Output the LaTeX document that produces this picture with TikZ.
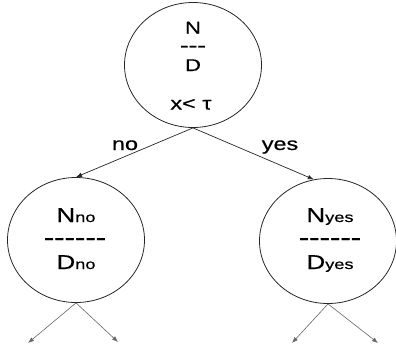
\documentclass[tikz,border=0pt]{standalone}
\usepackage{fontspec}
\setmainfont{Liberation Sans}
\newfontfamily\wf[FakeStretch=1.3,FakeBold=0.6]{Liberation Sans}
\newfontfamily\wfb[FakeStretch=1.3,FakeBold=1.5]{Liberation Sans}
\usetikzlibrary{shapes.geometric,arrows.meta}
\newcommand{\fs}[1]{\fontsize{#1}{#1}\selectfont}
\begin{document}
\begin{tikzpicture}[x=1pt,y=-1pt,
  circ/.style={draw=black!85,line width=0.8pt,ellipse,inner sep=0pt,minimum width=137pt,minimum height=125pt},
  txt/.style={inner sep=0pt,anchor=base,font=\wf},
  dsh/.style={inner sep=0pt,anchor=base,font=\wfb},
  toparrow/.style={draw=black!85,line width=0.7pt,-{Latex[length=6pt,width=4.5pt]}},
  botarrow/.style={draw=black!60,line width=0.6pt,-{Latex[length=6pt,width=4.5pt]}}]
\useasboundingbox (0,0) rectangle (396,354);
% circles
\node[circ] (top) at (193,65) {};
\node[circ] (left) at (76,240) {};
\node[circ] (right) at (328,241) {};
% top texts
\node[txt] (tN) at (193,33.5) {\fs{17}N};
\node[dsh] (tdash) at (193,52) {\fs{20}---};
\node[txt] (tD) at (193,71) {\fs{17}D};
\node[txt] (tx) at (191,109.5) {\fs{18}x< τ};
% left texts
\node[txt] (lN) at (76,222) {\fs{20}N\fs{14}no};
\node[dsh] (ldash) at (75,245.5) {\fs{24}------};
\node[txt] (lD) at (76,269) {\fs{20}D\fs{14}no};
% right texts
\node[txt] (rN) at (330,222) {\fs{20}N\fs{14}yes};
\node[dsh] (rdash) at (330,245.5) {\fs{24}------};
\node[txt] (rD) at (330,269) {\fs{20}D\fs{14}yes};
% top connectors
\draw[toparrow] (top.south) -- (left.north);
\draw[toparrow] (top.south) -- (right.103);
\node[txt] (lno) at (125,150) {\fs{18}no};
\node[txt] (lyes) at (280,150) {\fs{18}yes};
% bottom arrows
\coordinate (la) at (28,343);
\coordinate (lb) at (118,342);
\coordinate (ra) at (292,343);
\coordinate (rb) at (378,343);
\draw[botarrow] (left.south) -- (la);
\draw[botarrow] (left.south) -- (lb);
\draw[botarrow] (right.south) -- (ra);
\draw[botarrow] (right.south) -- (rb);
\end{tikzpicture}
\end{document}
